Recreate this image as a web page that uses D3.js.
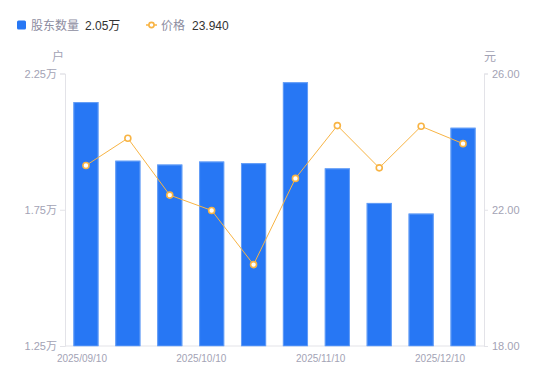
<!DOCTYPE html>
<html>
<head>
<meta charset="utf-8">
<script src="https://cdn.jsdelivr.net/npm/d3@7"></script>
<style>
  html, body { margin: 0; padding: 0; background: #fff; }
  #chart { width: 550px; height: 381px; }
  text { font-family: "Liberation Sans", "Noto Sans CJK SC", sans-serif; }
</style>
</head>
<body>
<div id="chart"></div>
<script>
// data
const dates = ["2025/09/10", "2025/09/19", "2025/09/30", "2025/10/10", "2025/10/20",
               "2025/10/31", "2025/11/10", "2025/11/20", "2025/11/28", "2025/12/10"];
const holders = [21450, 19300, 19160, 19270, 19210, 22180, 19020, 17750, 17360, 20510];
const prices = [23.30, 24.10, 22.43, 21.98, 20.39, 22.92, 24.47, 23.23, 24.45, 23.94];
const xTickLabels = ["2025/09/10", "2025/10/10", "2025/11/10", "2025/12/10"];
const leftTicks = [12500, 17500, 22500];
const rightTicks = [18, 22, 26];

const parent = document.getElementById("chart"),
      svgWidth = 550,
      svgHeight = 381;
const svg = d3.select(parent).append("svg")
    .attr("width", svgWidth)
    .attr("height", svgHeight);

const margin = {top: 73.5, right: 66, bottom: 35, left: 65},
      width = svgWidth - margin.left - margin.right,
      height = svgHeight - margin.top - margin.bottom;

const axisColor = "#e3e3e8",
      labelColor = "#a3a3b5",
      barColor = "#2777f4",
      lineColor = "#f8b444";

const g = svg.append("g")
    .attr("transform", "translate(" + margin.left + "," + margin.top + ")");

// scales
const x = d3.scaleBand().domain(dates).range([0, width]).paddingInner(0.4).paddingOuter(0.2);
const yL = d3.scaleLinear().domain([12500, 22500]).range([height, 0]);
const yR = d3.scaleLinear().domain([18, 26]).range([height, 0]);

const fmtWan = d => (d / 10000).toFixed(2) + "万";

// left axis
const axL = g.append("g")
    .call(d3.axisLeft(yL).tickValues(leftTicks).tickSize(5).tickPadding(3).tickFormat(fmtWan));
axL.select(".domain").attr("stroke", axisColor);
axL.selectAll(".tick line").attr("stroke", axisColor);
axL.selectAll(".tick text").attr("fill", labelColor).attr("font-size", 11);

// right axis
const axR = g.append("g")
    .attr("transform", "translate(" + width + ",0)")
    .call(d3.axisRight(yR).tickValues(rightTicks).tickSize(4).tickPadding(4).tickFormat(d3.format(".2f")));
axR.select(".domain").attr("stroke", axisColor);
axR.selectAll(".tick line").attr("stroke", axisColor);
axR.selectAll(".tick text").attr("fill", labelColor).attr("font-size", 11);

// bottom axis line
g.append("line")
    .attr("x1", 0).attr("x2", width)
    .attr("y1", height).attr("y2", height)
    .attr("stroke", axisColor);

// x labels spread evenly
const xl = d3.scalePoint().domain(xTickLabels).range([x(dates[0]) + x.bandwidth() / 2 - 4, x(dates[dates.length - 1]) + x.bandwidth() / 2 - 23]);
g.selectAll(".xlab").data(xTickLabels).enter().append("text")
    .attr("class", "xlab")
    .attr("x", d => xl(d))
    .attr("y", height + 16)
    .attr("text-anchor", "middle")
    .attr("fill", labelColor)
    .attr("font-size", 10)
    .text(d => d);

// unit labels
g.append("text").attr("x", -7).attr("y", -13).attr("text-anchor", "middle")
    .attr("fill", labelColor).attr("font-size", 12).text("户");
g.append("text").attr("x", width + 6).attr("y", -13).attr("text-anchor", "middle")
    .attr("fill", labelColor).attr("font-size", 12).text("元");

// bars
g.selectAll(".bar").data(holders).enter().append("rect")
    .attr("class", "bar")
    .attr("x", (d, i) => x(dates[i]))
    .attr("y", d => yL(d))
    .attr("width", x.bandwidth())
    .attr("height", d => height - yL(d))
    .attr("fill", barColor);
g.selectAll(".bartop").data(holders).enter().append("rect")
    .attr("class", "bartop")
    .attr("x", (d, i) => x(dates[i]) + 0.5)
    .attr("y", d => yL(d) + 0.5)
    .attr("width", x.bandwidth() - 1)
    .attr("height", d => height - yL(d) - 0.5)
    .attr("fill", "none")
    .attr("stroke", "#7eaef8")
    .attr("stroke-opacity", 0.7)
    .attr("stroke-width", 1);

// price line
const valueline = d3.line()
    .x((d, i) => x(dates[i]) + x.bandwidth() / 2)
    .y(d => yR(d));
g.append("path")
    .datum(prices)
    .attr("fill", "none")
    .attr("stroke", lineColor)
    .attr("stroke-width", 1)
    .attr("d", valueline);

g.selectAll(".pt").data(prices).enter().append("circle")
    .attr("class", "pt")
    .attr("cx", (d, i) => x(dates[i]) + x.bandwidth() / 2)
    .attr("cy", d => yR(d))
    .attr("r", 3)
    .attr("fill", "#fff")
    .attr("stroke", lineColor)
    .attr("stroke-width", 1.6);

// legend
const lg = svg.append("g").attr("transform", "translate(17,25)");
lg.append("rect").attr("x", 0).attr("y", -4.5).attr("width", 9).attr("height", 9)
    .attr("rx", 1.5).attr("fill", barColor);
lg.append("text").attr("x", 14).attr("y", 4.5).attr("fill", "#8d8d9f")
    .attr("font-size", 12).text("股东数量");
lg.append("text").attr("x", 68).attr("y", 4.5).attr("fill", "#333")
    .attr("font-size", 12).text(fmtWan(holders[holders.length - 1]));

lg.append("line").attr("x1", 129).attr("x2", 140).attr("y1", 0).attr("y2", 0)
    .attr("stroke", lineColor).attr("stroke-width", 1.5);
lg.append("circle").attr("cx", 134.5).attr("cy", 0).attr("r", 2.6)
    .attr("fill", "#fff").attr("stroke", lineColor).attr("stroke-width", 1.6);
lg.append("text").attr("x", 144).attr("y", 4.5).attr("fill", "#8d8d9f")
    .attr("font-size", 12).text("价格");
lg.append("text").attr("x", 175).attr("y", 4.5).attr("fill", "#333")
    .attr("font-size", 12).text(prices[prices.length - 1].toFixed(3));
</script>
</body>
</html>
